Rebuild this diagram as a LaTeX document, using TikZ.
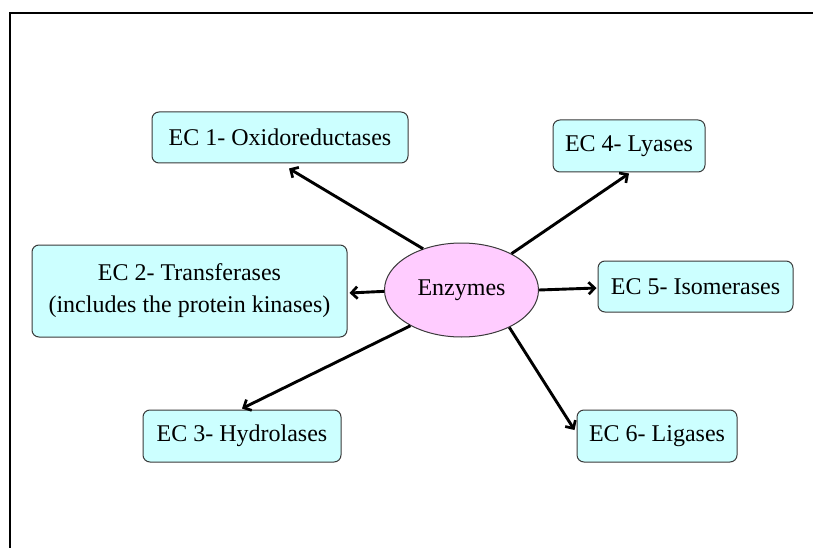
\documentclass[tikz,border=0pt]{standalone}
\usepackage{fontspec}
\setmainfont{Liberation Serif}
\usetikzlibrary{shapes.geometric,arrows.meta}
\definecolor{boxfill}{HTML}{CCFFFF}
\definecolor{ovalfill}{HTML}{FFCCFF}
\definecolor{edgegray}{HTML}{3A3A3A}
\tikzset{
  ecbox/.style={draw=edgegray, line width=1pt, fill=boxfill, rounded corners=7pt,
    inner sep=0pt, align=center, font=\fontsize{24}{32}\selectfont},
  hub/.style={ellipse, draw=edgegray, line width=1pt, fill=ovalfill, inner sep=0pt,
    minimum width=154pt, minimum height=94pt, font=\fontsize{24}{28}\selectfont},
  arr/.style={line width=2.9pt, -{Straight Barb[length=6pt,width=12pt,line width=2.7pt]}},
  frame/.style={line width=2.6pt}
}
\begin{document}
\begin{tikzpicture}[x=1pt,y=-1pt]
\useasboundingbox (0,0) rectangle (813,548);
\clip (0,0) rectangle (813,548);
\fill[white] (0,0) rectangle (813,548);
% slide frame, running off the right and bottom edges
\draw[frame] (830,13) -- (10,13) -- (10,570);

% classes
\node[ecbox, minimum width=256pt, minimum height=51pt] (ec1) at (280,137.5) {EC 1- Oxidoreductases};
\node[ecbox, minimum width=315pt, minimum height=92pt] (ec2) at (189.5,291) {EC 2- Transferases\\(includes the protein kinases)};
\node[ecbox, minimum width=198pt, minimum height=52pt] (ec3) at (242,436) {EC 3- Hydrolases};
\node[ecbox, minimum width=152pt, minimum height=52pt] (ec4) at (629,146) {EC 4- Lyases};
\node[ecbox, minimum width=195pt, minimum height=51pt] (ec5) at (695.5,286.5) {EC 5- Isomerases};
\node[ecbox, minimum width=160pt, minimum height=52pt] (ec6) at (657,436) {EC 6- Ligases};

% central node
\node[hub] (enz) at (461.5,290) {Enzymes};

% connectors (canvas shifts: positive yshift moves up)
\draw[arr] (enz.133) -- ([xshift=9pt,yshift=-5pt]ec1.south);
\draw[arr] (enz.181) -- ([xshift=2pt,yshift=-2pt]ec2.east);
\draw[arr] (enz.215) -- ([yshift=1pt]ec3.north);
\draw[arr] (enz.36) -- ([yshift=-1pt]ec4.south);
\draw[arr] (enz.east) -- ([xshift=-1pt,yshift=-1.5pt]ec5.west);
\draw[arr] (enz.322) -- ([xshift=-2pt,yshift=6pt]ec6.west);
\end{tikzpicture}
\end{document}
